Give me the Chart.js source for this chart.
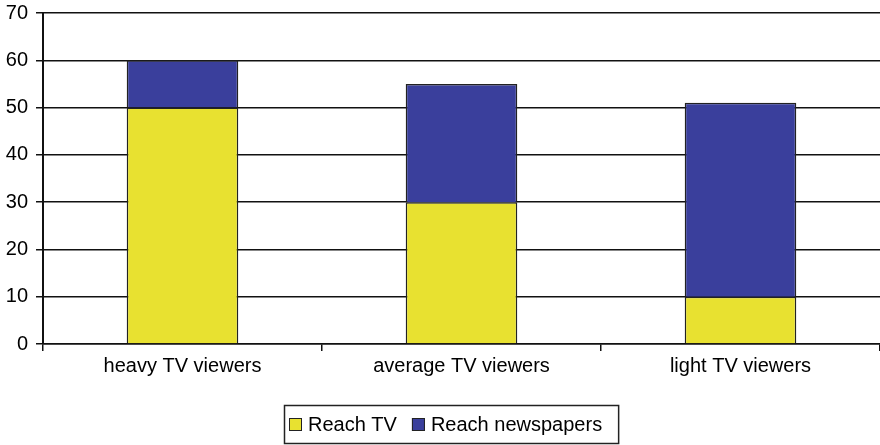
<!DOCTYPE html>
<html>
<head>
<meta charset="utf-8">
<script src="https://cdn.jsdelivr.net/npm/chart.js@4"></script>
<style>
  html, body { margin: 0; padding: 0; background: #ffffff; }
  #wrap { width: 880px; height: 445px; }
</style>
</head>
<body>
<div id="wrap"><canvas id="c" width="880" height="445"></canvas></div>
<script>
const categories = ['heavy TV viewers', 'average TV viewers', 'light TV viewers'];
const seriesNames = ['Reach TV', 'Reach newspapers'];
const reachTV = [50, 30, 10];
const reachNewspapers = [10, 25, 41];
const yMin = 0, yMax = 70, yStep = 10;

const FONT = 'Liberation Sans, Arial, Helvetica, sans-serif';
const FS = 20;
const yellow = '#E8E130';
const blue = '#3A3F9C';

const boxedLegend = {
  id: 'boxedLegend',
  afterDraw(chart) {
    const ctx = chart.ctx;
    ctx.save();
    ctx.font = FS + 'px ' + FONT;
    const sq = 13, gapText = 6, gapItem = 15, padL = 5, padR = 16;
    const items = chart.data.datasets.map(d => ({ label: d.label, color: d.backgroundColor, w: ctx.measureText(d.label).width }));
    let total = padL + padR;
    items.forEach((it, i) => { total += sq + gapText + it.w + (i < items.length - 1 ? gapItem : 0); });
    const boxTop = 405, boxH = 38;
    const cx = chart.width / 2 + 11;
    const left = Math.round(cx - total / 2);
    ctx.strokeStyle = '#222';
    ctx.lineWidth = 1.5;
    ctx.strokeRect(left + 0.5, boxTop + 0.5, total, boxH);
    let x = left + padL;
    const baseY = 431;
    items.forEach((it, i) => {
      ctx.fillStyle = it.color;
      ctx.fillRect(x, baseY - 13, sq, sq);
      ctx.strokeStyle = '#222';
      ctx.lineWidth = 1;
      ctx.strokeRect(x + 0.5, baseY - 12.5, sq - 1, sq - 1);
      x += sq + gapText;
      ctx.fillStyle = '#000';
      ctx.textBaseline = 'alphabetic';
      ctx.textAlign = 'left';
      ctx.fillText(it.label, x, baseY);
      x += it.w + gapItem;
    });
    ctx.restore();
  }
};

new Chart(document.getElementById('c'), {
  type: 'bar',
  data: {
    labels: categories,
    datasets: [
      { label: seriesNames[0], data: reachTV, backgroundColor: yellow, borderColor: '#222', borderWidth: 1.5 },
      { label: seriesNames[1], data: reachNewspapers, backgroundColor: blue, borderColor: '#222', borderWidth: 1.5 }
    ]
  },
  options: {
    responsive: false,
    animation: false,
    devicePixelRatio: 1,
    layout: { padding: { top: 13, right: 0, bottom: 0, left: 0 } },
    plugins: { legend: { display: false }, tooltip: { enabled: false } },
    datasets: { bar: { categoryPercentage: 1.0, barPercentage: 0.4 } },
    scales: {
      x: {
        stacked: true,
        afterFit(scale) { scale.height = 101; scale.paddingLeft = 0; scale.paddingRight = 0; },
        grid: { display: true, drawOnChartArea: false, drawTicks: true, tickLength: 7, color: '#111', lineWidth: 1.5, offset: true },
        border: { display: true, color: '#111', width: 1.5 },
        ticks: { color: '#000', font: { family: FONT, size: FS }, padding: 3, maxRotation: 0 }
      },
      y: {
        stacked: true,
        min: yMin, max: yMax,
        afterFit(scale) { scale.width = 43; scale.paddingTop = 0; scale.paddingBottom = 0; },
        grid: { color: '#111', lineWidth: 1.5, drawTicks: true, tickLength: 7 },
        border: { display: true, color: '#111', width: 2 },
        ticks: { stepSize: yStep, color: '#000', font: { family: FONT, size: FS }, padding: 8 }
      }
    }
  },
  plugins: [boxedLegend]
});
</script>
</body>
</html>
